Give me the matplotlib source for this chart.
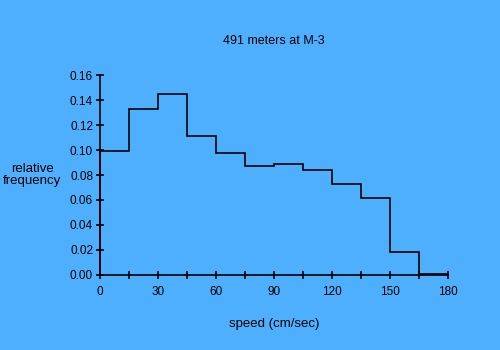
import matplotlib
matplotlib.use('Agg')
import matplotlib.pyplot as plt
import numpy as np

# speed bins (cm/sec) and relative frequency per bin
bin_edges = [0, 15, 30, 45, 60, 75, 90, 105, 120, 135, 150, 165, 180]
rel_freq = [0.099, 0.1325, 0.1448, 0.111, 0.0973, 0.087, 0.0888, 0.0837,
            0.0725, 0.0613, 0.0181, 0.001]
x_ticks = [0, 30, 60, 90, 120, 150, 180]
y_ticks = [0.00, 0.02, 0.04, 0.06, 0.08, 0.10, 0.12, 0.14, 0.16]

bg = '#4FAFFF'
plt.rcParams['font.family'] = ['Liberation Sans', 'DejaVu Sans']

fig = plt.figure(figsize=(5, 3.5), dpi=100, facecolor=bg)
ax = fig.add_axes([0.2, 0.2143, 0.696, 0.5714], facecolor=bg)

ax.stairs(rel_freq, bin_edges, color='black', linewidth=1.2, clip_on=False)

ax.set_xlim(0, 180)
ax.set_ylim(0, 0.16)
ax.set_xticks(x_ticks)
ax.set_xticks(bin_edges, minor=True)
ax.set_yticks(y_ticks)
ax.set_yticklabels([f'{v:.2f}' for v in y_ticks])

for s in ['top', 'right']:
    ax.spines[s].set_visible(False)
for s in ['left', 'bottom']:
    ax.spines[s].set_linewidth(1.2)

ax.tick_params(axis='both', which='both', direction='inout', length=6,
               width=1.2, labelsize=8.5, colors='black')
ax.tick_params(axis='x', which='major', pad=5)
ax.tick_params(axis='y', which='major', pad=2)

ax.set_title('491 meters at M-3', fontsize=9, pad=22)
ax.set_xlabel('speed (cm/sec)', fontsize=9.5, labelpad=14)
ax.set_ylabel('relative\nfrequency', fontsize=9.5, rotation=0,
              ha='center', va='center', linespacing=0.95)
ax.yaxis.set_label_coords(-0.195, 0.5)

fig.savefig('out.png', dpi=100, facecolor=bg)
